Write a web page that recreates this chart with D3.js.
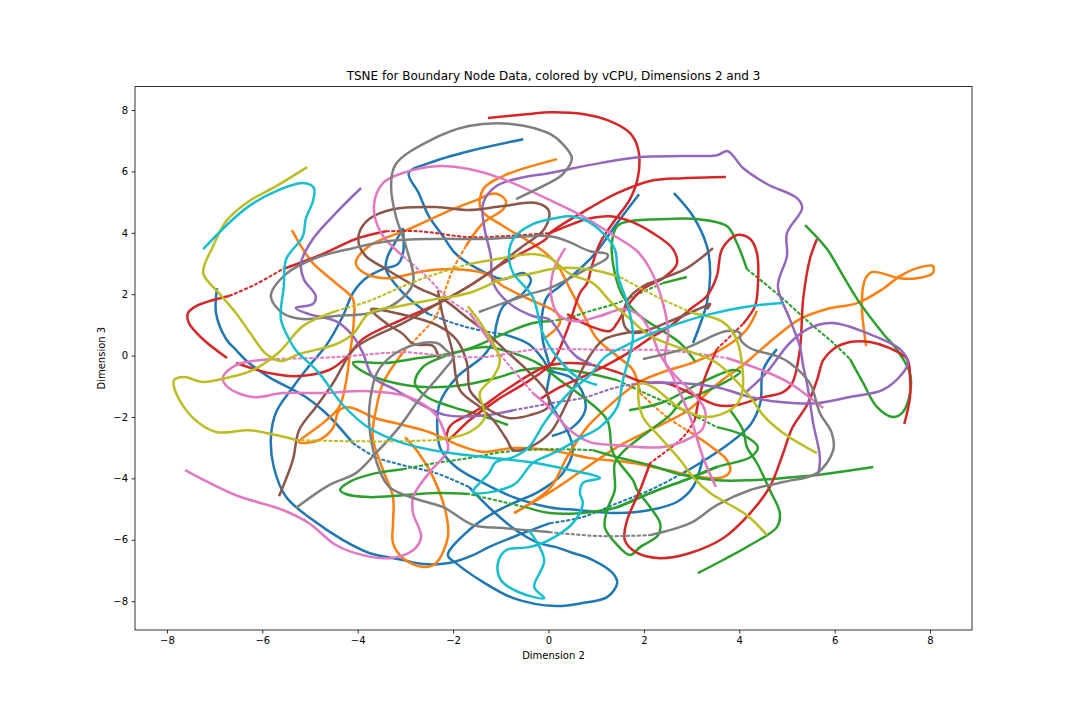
<!DOCTYPE html>
<html>
<head>
<meta charset="utf-8">
<script src="https://cdn.jsdelivr.net/npm/d3@7"></script>
<style>
    body { margin: 0; background: #fff; }
    text { font-family: "DejaVu Sans", sans-serif; fill: #000; }
</style>
</head>
<body>
<div id="chart"></div>
<script>
const blue = [
    [[-0.53,7.05],[-1.67,6.66],[-2.51,6.27],[-2.93,5.95],[-2.72,5.29],[-2.51,4.54],[-2.21,3.89],[-1.94,3.31],[-1.31,2.69],[-0.95,2.49],[-0.53,2.69],[-0.37,2.49],[-0.53,2.04],[-0.95,1.61],[-1.10,0.96],[-1.14,0.54],[-1.37,-0.02],[-1.92,-0.70],[-2.28,-1.55],[-2.32,-2.66],[-2.25,-3.08],[-1.94,-3.63],[-1.37,-4.15],[-0.74,-4.61],[0.01,-4.94],[0.60,-5.03],[1.44,-5.13],[2.13,-5.03],[2.69,-4.77],[3.03,-4.28],[3.24,-3.34]],
    [[1.90,5.26],[1.44,4.32],[0.93,3.24],[0.24,2.26],[-0.03,1.91],[-0.14,1.25],[-0.12,0.50],[0.03,-0.47],[-0.03,-1.22],[0.16,-1.87],[0.39,-2.43],[0.51,-3.08],[0.30,-3.83],[0.01,-4.22],[-0.26,-4.48],[-0.74,-4.81],[-1.16,-5.13],[-1.67,-5.69],[-2.11,-6.50],[-1.94,-6.76],[-1.37,-7.38],[-0.74,-7.90],[0.16,-8.16],[0.72,-8.06],[1.23,-7.87],[1.44,-7.41],[1.35,-7.09],[0.93,-6.66],[0.45,-6.40],[0.16,-6.24],[-0.20,-6.11],[-0.68,-5.69],[-1.25,-4.94],[-1.67,-4.28],[-2.36,-3.83],[-3.05,-3.57],[-3.62,-3.31],[-4.10,-2.85],[-4.67,-1.87],[-5.09,-1.35],[-5.86,-0.70],[-6.28,-0.24],[-6.55,0.18],[-6.76,0.54],[-6.97,1.38],[-6.95,2.20]],
    [[-3.05,4.15],[-3.20,3.73],[-3.37,3.24],[-3.41,2.82],[-3.05,2.04],[-2.51,1.35],[-1.94,1.03],[-1.37,0.80],[-0.95,0.70],[-0.41,0.37],[-0.12,-0.11],[0.03,-0.47],[0.45,-0.70],[0.72,-1.22],[0.77,-1.78],[0.51,-2.33],[0.07,-2.62]],
    [[-3.05,4.15],[-3.05,3.34],[-3.16,2.98],[-3.47,2.82],[-3.83,2.52],[-4.10,2.04],[-4.31,1.29],[-4.67,0.31],[-5.02,-0.34],[-5.36,-1.03],[-5.71,-1.84],[-5.82,-2.66],[-5.76,-3.63],[-5.50,-4.61],[-4.94,-5.36],[-4.31,-6.01],[-3.76,-6.43],[-3.05,-6.66],[-2.63,-6.79],[-2.09,-6.76],[-1.58,-6.50],[-1.25,-6.24],[-0.74,-5.91],[0.03,-5.46],[0.72,-5.26],[1.44,-4.81],[2.13,-4.38],[2.82,-3.83],[3.28,-3.40],[3.74,-2.92],[4.23,-2.26],[4.44,-1.55],[4.50,-0.47],[4.79,0.21]],
    [[2.63,5.29],[3.03,4.54],[3.32,3.57],[3.39,2.69],[3.32,1.71],[3.03,0.41]]
];
const orange = [
    [[0.18,6.40],[-0.95,5.85],[-1.37,5.42],[-1.42,4.77],[-0.95,4.22],[-0.26,3.57],[0.16,3.01],[0.45,2.17],[0.72,1.38],[1.02,0.54],[1.44,-0.02],[1.77,-0.47],[1.92,-1.22],[2.48,-2.00],[2.97,-2.49],[3.45,-3.01],[3.74,-3.40],[3.81,-3.75],[3.66,-3.96],[3.18,-3.96],[2.48,-3.73],[1.77,-3.50],[0.87,-3.34],[0.03,-3.08],[-0.74,-3.01],[-1.37,-3.14],[-1.88,-2.92],[-2.51,-2.49],[-3.05,-2.26],[-3.62,-2.04],[-4.18,-1.68],[-4.39,-1.78],[-4.52,-2.36],[-4.81,-2.75],[-5.23,-2.82],[-4.73,-2.20],[-4.39,-1.68],[-4.25,-0.90],[-4.18,-0.15],[-4.08,1.19],[-4.10,1.84],[-4.46,2.36],[-4.94,3.01],[-5.15,3.47],[-5.38,4.09]],
    [[-0.07,0.57],[0.24,1.06],[0.18,1.38],[-0.41,1.84],[-0.95,2.26],[-1.31,2.66],[-2.00,2.82],[-2.63,2.75],[-3.34,2.52],[-3.83,2.66],[-4.04,3.01],[-3.76,3.57],[-2.93,4.12],[-2.00,4.77],[-1.46,5.10],[-1.23,5.26],[-1.06,5.26],[-0.89,5.03],[-0.95,4.77],[-1.37,4.32],[-1.73,3.57],[-2.00,2.82],[-2.21,1.94],[-2.36,1.29],[-2.72,0.64],[-3.05,0.11],[-3.47,-0.90],[-3.62,-1.78],[-3.68,-2.33],[-3.68,-2.75],[-3.47,-3.73],[-3.26,-4.61],[-3.26,-5.46],[-3.26,-6.11],[-3.05,-6.60],[-2.63,-6.89],[-2.36,-6.76],[-2.11,-5.91],[-2.15,-5.13],[-2.42,-3.96],[-2.72,-3.18],[-3.01,-2.66]],
    [[6.66,0.31],[6.57,1.71],[6.64,2.49],[6.78,2.72],[7.37,2.52],[7.73,2.52],[8.06,2.69],[8.06,2.92],[7.73,2.85],[7.37,2.59],[7.01,2.17],[6.47,1.71],[5.84,1.52],[5.27,1.19],[4.79,0.64],[4.37,0.08],[4.08,-0.31],[3.64,-0.80],[3.39,-1.12],[2.93,-1.78],[2.13,-2.43],[1.44,-2.98],[0.72,-3.73],[0.03,-4.45],[-0.72,-5.13]],
    [[4.37,1.45],[4.16,0.86],[3.74,0.31],[3.11,-0.18],[2.34,-0.57],[1.86,-0.90],[1.29,-1.61],[0.81,-2.33],[0.39,-3.31],[0.03,-4.32],[-0.72,-5.13]]
];
const green = [
    [[3.07,-0.18],[2.76,0.41],[2.40,0.80],[1.92,1.29],[1.56,1.94],[1.39,2.69],[1.33,3.67],[1.44,4.22],[1.71,4.38],[2.48,4.45],[3.11,4.45],[3.74,4.22],[3.95,3.67],[4.16,2.82],[4.85,1.94],[5.48,1.06],[5.97,0.41],[6.32,-0.11],[6.60,-0.90],[6.89,-1.68],[7.22,-2.00],[7.43,-1.84],[7.58,-1.22],[7.58,-0.57],[7.31,0.18],[7.01,0.73],[6.53,1.71],[6.18,2.59],[5.84,3.47],[5.38,4.25]],
    [[3.81,-1.78],[4.08,-2.43],[4.16,-2.98],[4.37,-3.50],[4.64,-4.38],[4.85,-5.13],[4.79,-5.59],[4.23,-6.17],[3.66,-6.66],[3.13,-7.09]],
    [[2.90,2.56],[2.40,2.36],[1.92,2.04],[1.44,1.71],[0.87,1.45],[0.39,1.22],[0.03,1.12],[-0.33,1.06],[-0.95,0.70],[-1.52,0.31],[-2.00,0.08],[-2.72,-0.08],[-3.41,-0.24],[-4.10,-0.24],[-3.83,-0.57],[-3.20,-0.90],[-2.51,-1.03],[-1.79,-0.96],[-1.10,-0.73],[-0.53,-0.47],[0.03,-0.41],[0.72,-0.54],[1.44,-0.80],[1.98,-1.19],[2.82,-1.78],[3.53,-2.33],[4.08,-2.59],[4.39,-2.98],[4.23,-3.31],[3.53,-3.63],[2.97,-3.99],[2.13,-4.48],[1.44,-4.94],[0.87,-5.10],[0.03,-5.13],[-0.41,-4.97],[-0.95,-4.77],[-1.67,-4.51],[-2.36,-4.48],[-3.05,-4.55],[-3.76,-4.61],[-4.25,-4.51],[-4.37,-4.38],[-4.18,-4.12],[-3.62,-3.83],[-3.05,-3.70],[-2.36,-3.50],[-1.67,-3.34],[-0.95,-3.14],[0.03,-3.05],[0.93,-3.08],[1.44,-3.31],[2.13,-3.57],[2.82,-3.89],[3.53,-4.06],[4.23,-4.06],[4.92,-3.99],[5.63,-3.89],[6.81,-3.63]],
    [[-0.85,-2.26],[-1.44,-1.94],[-2.00,-1.68],[-2.55,-1.35],[-2.80,-0.90],[-2.63,-0.37],[-2.28,-0.08],[-1.75,0.18],[-1.29,0.28],[-0.74,0.08],[-0.24,-0.24],[0.24,-0.80],[0.72,-1.35],[1.23,-2.10],[1.33,-3.08],[1.44,-3.40],[1.77,-4.06],[1.86,-4.38],[2.13,-4.94],[2.34,-5.46],[2.30,-5.85],[1.92,-6.24],[1.71,-6.50],[1.44,-6.17],[1.18,-5.59],[1.23,-5.03],[1.39,-4.38],[1.39,-3.50],[1.56,-3.14],[2.13,-2.43],[2.55,-1.94],[2.82,-1.45],[3.18,-1.25],[3.66,-0.90],[4.02,-0.54],[3.87,-0.47],[3.18,-0.90],[2.40,-1.52],[1.69,-1.78]]
];
const red = [
    [[-1.27,7.74],[-0.41,7.87],[0.03,7.93],[0.72,7.87],[1.29,7.64],[1.71,7.25],[1.88,6.73],[1.88,5.85],[1.71,5.10],[1.35,4.32],[1.08,3.67],[0.91,2.92],[0.81,2.36],[0.66,2.04],[0.39,0.83],[0.07,-0.24],[-0.39,-0.80],[-1.08,-1.45],[-1.65,-2.10],[-2.13,-2.75],[-2.09,-2.36],[-2.00,-2.20],[-1.50,-1.78],[-0.81,-1.03],[-0.03,-0.34],[0.45,-0.24],[0.93,-0.31],[1.44,-0.54],[1.98,-0.86],[2.48,-0.90],[2.97,-1.22],[3.53,-1.61],[3.95,-1.61],[4.44,-1.38],[4.92,-1.19],[5.11,-0.90],[5.27,0.18],[5.34,1.84],[5.48,3.14],[5.63,3.80]],
    [[-6.74,-0.08],[-7.25,0.54],[-7.54,1.06],[-7.56,1.38],[-7.39,1.61],[-6.70,1.94],[-6.13,2.33],[-5.57,2.82],[-4.73,3.31],[-4.04,3.80],[-3.41,4.05],[-2.72,4.05],[-1.67,3.86],[-0.95,3.89],[0.03,3.99],[0.39,4.22],[0.81,4.45],[1.29,4.54],[1.71,4.38],[2.19,3.99],[2.61,3.47],[2.69,2.98],[2.40,2.52],[1.98,2.17],[1.65,1.61],[1.44,1.06],[1.29,0.80],[0.87,0.96],[0.39,1.35]],
    [[3.72,5.82],[2.82,5.78],[2.13,5.69],[1.44,5.29],[0.87,4.81],[0.03,3.99],[-0.05,3.80],[-0.95,3.01],[-1.67,2.26],[-2.30,1.71],[-3.05,1.19],[-3.89,0.54],[-4.25,-0.08],[-4.60,-0.47],[-5.30,-0.67],[-5.86,-0.57],[-6.55,-0.24]],
    [[-0.18,-1.42],[0.24,-1.03],[0.93,-0.54],[1.77,0.18],[2.13,0.57],[2.55,0.96],[2.97,1.51],[3.32,1.94],[3.53,2.59],[3.64,3.47],[3.95,3.93],[4.23,3.80],[4.37,3.34],[4.39,2.26],[4.33,1.61],[4.08,1.03],[3.53,0.21],[3.24,-0.90],[3.07,-2.10],[2.82,-2.66],[2.13,-3.50],[1.92,-4.38],[1.65,-5.36],[1.60,-6.01],[1.86,-6.43],[2.34,-6.60],[2.97,-6.43],[3.66,-5.95],[4.23,-5.13],[4.64,-4.28],[4.92,-3.18],[5.11,-2.36],[5.42,-1.61],[5.63,-0.80],[5.76,-0.15],[5.97,0.21],[6.32,0.44],[6.74,0.44],[7.16,0.24],[7.52,-0.11],[7.58,-0.70],[7.58,-1.35],[7.46,-2.23]]
];
const purple = [
    [[-3.93,5.46],[-4.46,4.64],[-4.94,3.80],[-5.19,3.01],[-5.13,2.49],[-4.88,1.94],[-4.94,1.68],[-5.30,1.55],[-5.02,1.35],[-4.46,1.12],[-4.10,0.64],[-3.89,0.08],[-3.68,-0.70],[-3.20,-1.12],[-2.72,-1.55],[-2.15,-1.94],[-1.31,-1.94],[-0.74,-1.78],[0.18,-1.52],[0.72,-1.38],[1.44,-1.03],[1.92,-0.90],[2.82,-0.90],[3.53,-1.03],[4.23,-1.35],[4.92,-1.52],[5.63,-1.55],[6.32,-1.35],[7.01,-1.12],[7.43,-0.57],[7.54,-0.24],[7.37,0.21],[6.68,0.73],[5.97,1.06],[5.48,0.90],[5.06,0.41],[4.58,-0.54],[4.12,-1.22]],
    [[0.93,-0.31],[0.60,-0.05],[0.45,0.18],[0.03,1.16],[-0.33,1.29],[-0.83,1.71],[-1.16,2.36],[-1.21,3.24],[-1.35,4.22],[-1.37,4.97],[-1.10,5.52],[-0.62,5.78],[0.03,5.95],[1.08,6.27],[1.92,6.47],[2.82,6.50],[3.53,6.53],[3.76,6.66],[4.08,6.11],[4.58,5.59],[5.21,5.13],[5.32,4.81],[5.00,3.99],[5.00,3.24],[4.81,2.26],[5.06,1.19],[5.27,0.31],[5.34,-0.34],[5.42,-0.90],[5.55,-2.20],[5.69,-3.31],[5.65,-3.93]]
];
const brown = [
    [[-5.65,-4.58],[-5.36,-3.40],[-5.23,-2.43],[-4.88,-1.68],[-4.52,-0.90],[-4.10,0.18],[-3.76,0.54],[-3.05,1.06],[-2.30,1.71],[-1.67,2.26],[-1.25,2.69],[-0.62,3.47],[-0.09,4.12],[0.01,4.71],[-0.26,4.97],[-0.95,4.87],[-1.67,4.74],[-2.36,4.84],[-3.26,4.77],[-3.76,4.45],[-3.97,3.99],[-3.97,3.60],[-3.83,3.24],[-3.41,2.82],[-2.72,2.20],[-2.21,1.84],[-1.67,1.19],[-1.29,0.73],[-0.91,0.18],[-0.45,-0.47],[-0.03,-1.22],[-0.01,-1.68],[-0.39,-1.94],[-0.81,-2.04],[-1.23,-1.78],[-1.48,-1.45],[-1.65,-1.12],[-1.71,-0.24],[-1.92,0.50],[-2.34,0.99],[-3.30,1.42],[-3.72,1.51],[-3.41,1.06],[-3.05,0.70],[-2.83,0.37],[-2.42,0.31],[-2.30,-0.11]],
    [[-2.32,2.13],[-2.21,1.25],[-2.02,0.18],[-1.86,-1.12],[-1.44,-1.68],[-1.16,-2.10],[-0.87,-2.75],[-0.74,-3.08],[-0.39,-2.98],[0.03,-2.52],[0.24,-2.00],[0.51,-1.12],[0.81,-0.15],[1.14,0.50],[1.60,0.73],[2.07,0.83],[2.61,1.16],[3.24,1.58],[3.39,1.68],[3.32,1.51]],
    [[3.45,3.50],[2.90,2.85],[2.40,2.52],[1.98,2.26],[1.67,1.84],[1.56,1.16],[1.71,0.77],[2.09,0.80]]
];
const pink = [
    [[-7.62,-3.73],[-6.55,-4.55],[-5.57,-5.03],[-5.02,-5.46],[-4.46,-6.17],[-3.89,-6.50],[-3.34,-6.60],[-2.84,-6.34],[-2.67,-5.91],[-2.84,-5.13],[-2.84,-4.61],[-2.51,-3.83],[-2.11,-3.08],[-2.15,-2.66],[-2.36,-1.94],[-2.93,-1.35],[-3.76,-1.16],[-4.73,-1.22],[-5.57,-1.22],[-6.20,-1.35],[-6.70,-1.06],[-6.83,-0.73],[-6.55,-0.31],[-5.71,-0.11],[-4.46,-0.05],[-3.05,0.11],[-2.34,0.02],[-1.37,-0.05],[-0.39,0.18],[0.45,0.21],[1.29,0.18],[2.34,0.18],[3.03,0.08],[3.74,-0.08],[4.58,-0.54],[5.06,-0.90],[5.76,-1.71]],
    [[3.51,-4.28],[3.24,-3.31],[2.97,-2.00],[2.61,-0.70],[2.44,-0.15],[2.51,0.73],[2.40,1.71],[2.13,2.82],[1.86,3.40],[1.29,3.99],[0.72,4.54],[0.16,4.97],[-0.95,5.75],[-1.67,6.08],[-2.36,6.17],[-3.05,5.95],[-3.47,5.62],[-3.66,4.87],[-3.51,3.99],[-3.05,3.24],[-2.57,2.59],[-2.09,1.84],[-1.65,1.38],[-1.10,0.18],[-0.74,-0.47],[-0.33,-1.22],[0.01,-1.68],[0.45,-2.43],[0.87,-2.82],[1.44,-2.92],[2.40,-2.98],[2.97,-2.69],[3.24,-2.36],[3.28,-1.78],[3.07,-1.29],[2.65,-0.64],[2.34,0.02],[2.17,0.67],[1.92,1.29],[1.56,1.51],[1.08,1.29],[0.60,1.12],[0.24,1.29],[0.07,1.81],[0.09,2.69],[0.35,3.50]]
];
const gray = [
    [[-0.68,5.10],[0.16,5.75],[0.30,5.91],[0.49,6.43],[0.30,6.89],[0.03,7.22],[-0.74,7.54],[-1.67,7.48],[-2.51,6.99],[-3.20,6.24],[-3.30,5.52],[-3.20,4.54],[-2.99,3.57],[-2.84,2.36],[-3.20,1.71],[-3.76,1.38],[-4.46,1.29],[-5.15,1.19],[-5.57,1.38],[-5.82,1.94],[-5.50,2.66],[-4.88,3.18],[-4.10,3.50],[-3.34,3.73],[-2.36,3.80],[-1.31,3.80],[0.03,3.89],[0.39,3.73],[0.87,3.40],[1.23,3.31],[1.23,3.18],[0.72,2.75],[0.03,2.20],[-0.41,2.00],[-1.46,1.42]],
    [[-5.30,-4.97],[-4.60,-4.22],[-4.04,-3.83],[-3.62,-3.18],[-3.13,-2.33],[-2.72,-1.45],[-2.19,-0.47],[-2.00,-0.05],[-2.15,0.18],[-2.34,0.41],[-2.84,0.34],[-3.32,-0.05],[-3.60,-0.57],[-3.74,-1.45],[-3.76,-2.20],[-3.62,-3.40],[-3.34,-4.28],[-2.84,-4.64],[-2.21,-4.94],[-1.58,-5.52],[-0.95,-5.62],[0.01,-5.75],[1.08,-5.88],[2.13,-5.85],[2.97,-5.46],[3.53,-4.87],[4.23,-4.38],[4.92,-4.12],[5.63,-3.83],[5.97,-3.08],[5.94,-2.52],[5.69,-1.87],[5.48,-0.90],[5.06,-0.24],[4.79,-0.02],[4.23,0.24],[4.02,0.54],[4.02,0.73],[3.74,0.80],[2.82,0.21],[1.98,-0.11]]
];
const olive = [
    [[-5.06,6.14],[-5.71,5.52],[-6.28,5.03],[-6.76,4.38],[-7.03,3.57],[-7.24,2.69],[-6.91,2.04],[-6.55,1.38],[-6.24,0.70],[-5.92,0.05],[-5.61,-0.18],[-5.23,0.05],[-4.46,0.37],[-4.10,0.70],[-3.76,1.38],[-3.13,1.61],[-2.36,1.84],[-1.67,2.04],[-0.95,2.49],[-0.41,2.66],[0.24,2.85],[0.93,2.79],[1.50,2.56],[2.28,1.91],[3.03,1.38],[3.66,1.09],[3.95,0.50],[4.06,-1.22],[3.87,-1.71],[3.32,-2.00],[2.76,-1.71],[2.19,-1.03],[1.92,-0.90],[1.88,-1.22],[1.98,-2.00],[2.34,-2.66],[2.76,-3.40],[3.03,-3.96],[3.39,-4.48],[4.16,-5.20],[4.58,-5.85]],
    [[-1.69,1.61],[-1.37,0.93],[-1.02,-0.15],[-1.16,-0.70],[-1.44,-1.22],[-1.33,-2.00],[-1.65,-2.49],[-2.34,-2.75],[-3.11,-2.79],[-4.16,-2.79],[-5.30,-2.75],[-5.71,-2.59],[-6.28,-2.43],[-6.97,-2.49],[-7.45,-2.04],[-7.81,-1.22],[-7.85,-0.80],[-7.64,-0.70],[-7.25,-0.86],[-6.76,-0.73],[-6.20,-0.47],[-5.65,0.11],[-5.15,0.96],[-4.46,1.45],[-3.76,1.78],[-3.05,2.26],[-2.36,2.66],[-1.67,2.98],[-0.95,3.18],[-0.33,3.31],[0.03,3.18],[0.45,2.66],[0.93,2.36],[1.33,1.71],[1.71,1.19],[2.13,0.64],[2.82,0.21],[3.53,-0.24],[4.23,-1.35],[4.50,-1.94],[4.92,-2.52],[5.63,-3.18]]
];
const cyan = [
    [[-7.24,3.47],[-6.70,4.32],[-6.28,4.87],[-5.71,5.36],[-5.15,5.62],[-4.92,5.46],[-4.94,5.03],[-5.09,4.45],[-5.15,3.89],[-5.50,3.14],[-5.55,2.26],[-5.61,1.19],[-5.44,0.54],[-5.30,0.18],[-4.81,-0.57],[-4.31,-1.61],[-3.76,-2.36],[-3.05,-2.85],[-2.21,-3.14],[-1.31,-3.31],[-0.41,-3.47],[0.45,-3.73],[1.08,-3.99],[0.72,-4.15],[0.66,-4.48],[0.72,-4.81],[0.51,-5.46],[0.01,-6.01],[-0.41,-6.24],[-0.89,-6.34],[-1.06,-6.76],[-1.00,-7.31],[-0.62,-7.71],[-0.09,-7.90],[-0.30,-7.54],[-0.09,-6.66],[-0.41,-5.69]],
    [[1.02,-0.96],[0.60,-0.70],[0.18,-0.05],[-0.12,0.73],[-0.33,1.91],[-0.74,2.69],[-0.83,3.24],[-0.74,3.80],[-0.33,4.28],[0.16,4.48],[0.45,4.54],[0.81,4.38],[1.14,3.99],[1.39,3.47],[1.46,2.59],[1.67,1.61],[1.77,0.60],[1.56,-0.80],[1.44,-1.68],[1.08,-2.33],[0.66,-2.69],[0.16,-3.14],[-0.33,-3.50],[-0.74,-4.22],[-1.58,-4.45],[-1.25,-3.83],[-1.10,-3.47],[-0.74,-3.31],[-0.41,-2.98],[-0.09,-2.20],[0.16,-1.68],[0.49,-1.12],[0.87,-0.64],[1.18,-0.05],[1.60,0.31],[2.13,0.70],[2.69,1.03],[3.39,1.35],[4.23,1.61],[4.92,1.71]]
];

// stretches where the points of a trajectory thin out: series, track, first point, last point
const thinRuns = [
    [0, 3, [0.03,-5.46], [2.82,-3.83]],
    [0, 1, [-1.67,-4.28], [-4.10,-2.85]],
    [0, 2, [-2.51,1.35], [-0.95,0.70]],
    [1, 0, [1.92,-1.22], [2.97,-2.49]],
    [1, 1, [-1.73,3.57], [-3.05,0.11]],
    [2, 0, [4.16,2.82], [6.32,-0.11]],
    [2, 2, [2.40,2.36], [0.03,1.12]],
    [2, 2, [1.44,-0.80], [3.53,-2.33]],
    [2, 2, [1.44,-4.94], [3.53,-3.63]],
    [2, 2, [-0.41,-4.97], [-1.67,-4.51]],
    [2, 2, [-3.05,-3.70], [0.93,-3.08]],
    [3, 1, [-6.70,1.94], [-5.57,2.82]],
    [3, 1, [-3.41,4.05], [0.03,3.99]],
    [3, 3, [4.08,1.03], [3.53,0.21]],
    [3, 3, [3.07,-2.10], [2.13,-3.50]],
    [4, 0, [-0.74,-1.78], [1.92,-0.90]],
    [6, 0, [-5.71,-0.11], [3.74,-0.08]],
    [6, 1, [-3.05,3.24], [-1.65,1.38]],
    [6, 1, [-1.10,0.18], [-0.33,-1.22]],
    [7, 1, [0.01,-5.75], [2.13,-5.85]],
    [8, 0, [1.50,2.56], [3.03,1.38]],
    [8, 1, [-2.34,-2.75], [-5.30,-2.75]],
    [8, 1, [-4.46,1.45], [-1.67,2.98]]
];

const seriesList = [blue, orange, green, red, purple, brown, pink, gray, olive, cyan];
const seriesColors = ["#1f77b4", "#ff7f0e", "#2ca02c", "#d62728", "#9467bd", "#8c564b", "#e377c2", "#7f7f7f", "#bcbd22", "#17becf"];
const xTicks = [-8, -6, -4, -2, 0, 2, 4, 6, 8];
const yTicks = [-8, -6, -4, -2, 0, 2, 4, 6, 8];

let margin = {top: 86.4, right: 108, bottom: 90, left: 135};
let width = 1080 - margin.left - margin.right;
let height = 720 - margin.top - margin.bottom;

let svg = d3.select("#chart").append("svg")
    .attr("width", 1080)
    .attr("height", 720)
    .append("g")
    .attr("transform", "translate(" + margin.left + "," + margin.top + ")");

let x = d3.scaleLinear().domain([-8.67, 8.88]).range([0, width]);
let y = d3.scaleLinear().domain([-8.94, 8.77]).range([height, 0]);

let line = d3.line()
    .x(d => x(d[0]))
    .y(d => y(d[1]))
    .curve(d3.curveCatmullRom.alpha(0.5));

function samePoint(a, b) {
    return a[0] === b[0] && a[1] === b[1];
}

// cut a track into solid and thin pieces, in drawing order
function splitTrack(track, seriesIndex, trackIndex) {
    let runs = thinRuns
        .filter(r => r[0] === seriesIndex && r[1] === trackIndex)
        .map(r => [track.findIndex(p => samePoint(p, r[2])), track.findIndex(p => samePoint(p, r[3]))])
        .sort((a, b) => a[0] - b[0]);

    let pieces = [];
    let at = 0;
    runs.forEach(r => {
        if (r[0] > at) pieces.push({points: track.slice(at, r[0] + 1), thin: false});
        pieces.push({points: track.slice(r[0], r[1] + 1), thin: true});
        at = r[1];
    });
    if (at < track.length - 1) pieces.push({points: track.slice(at), thin: false});
    return pieces;
}

seriesList.forEach((tracks, i) => {
    let pieces = [];
    tracks.forEach((track, j) => { pieces = pieces.concat(splitTrack(track, i, j)); });

    svg.append("g").selectAll("path")
        .data(pieces)
        .enter()
        .append("path")
        .attr("d", d => line(d.points))
        .attr("fill", "none")
        .attr("stroke", seriesColors[i])
        .attr("stroke-width", d => d.thin ? 2 : 2.5)
        .attr("stroke-dasharray", d => d.thin ? "4 1.5" : null);
});

let xAxis = d3.axisBottom(x).tickValues(xTicks).tickSize(3.5).tickPadding(3.5).tickFormat(d3.format("d"));
let yAxis = d3.axisLeft(y).tickValues(yTicks).tickSize(3.5).tickPadding(3.5).tickFormat(d3.format("d"));

svg.append("g").attr("transform", "translate(0," + height + ")").call(xAxis);
svg.append("g").call(yAxis);
svg.selectAll(".domain").remove();
svg.selectAll(".tick line").attr("stroke-width", 0.8).attr("stroke", "#000");
svg.selectAll(".tick text").attr("font-size", 10).attr("font-family", "DejaVu Sans").attr("fill", "#000");

// frame on all four sides
svg.append("rect")
    .attr("width", width)
    .attr("height", height)
    .attr("fill", "none")
    .attr("stroke", "#000")
    .attr("stroke-width", 0.8);

svg.append("text")
    .attr("x", width / 2)
    .attr("y", -6)
    .attr("text-anchor", "middle")
    .attr("font-size", 12)
    .text("TSNE for Boundary Node Data, colored by vCPU, Dimensions 2 and 3");

svg.append("text")
    .attr("x", width / 2)
    .attr("y", height + 29)
    .attr("text-anchor", "middle")
    .attr("font-size", 10)
    .text("Dimension 2");

svg.append("text")
    .attr("transform", "translate(-30," + height / 2 + ") rotate(-90)")
    .attr("text-anchor", "middle")
    .attr("font-size", 10)
    .text("Dimension 3");
</script>
</body>
</html>
